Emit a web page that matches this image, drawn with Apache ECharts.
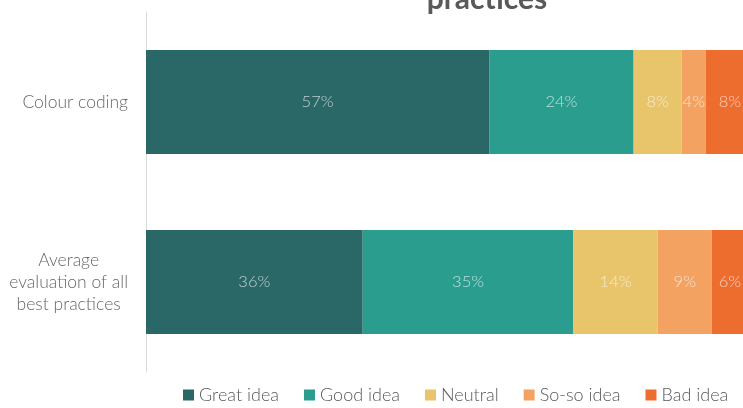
<!DOCTYPE html>
<html>
<head>
<meta charset="utf-8">
<script src="https://cdn.jsdelivr.net/npm/echarts@6/dist/echarts.min.js"></script>
<style>
  html, body { margin: 0; padding: 0; background: #ffffff; overflow: hidden; }
  #wrap { width: 743px; height: 408px; overflow: hidden; position: relative; }
  #chart { width: 770px; height: 408px; position: absolute; left: 0; top: 0; }
</style>
</head>
<body>
<div id="wrap"><div id="chart"></div></div>
<script>
// Share of ratings per item (percent)
const categories = ['Colour coding', 'Average\nevaluation of all\nbest practices'];
const seriesNames = ['Great idea', 'Good idea', 'Neutral', 'So-so idea', 'Bad idea'];
const greatIdea = [57, 36];
const goodIdea = [24, 35];
const neutral = [8, 14];
const sosoIdea = [4, 9];
const badIdea = [8, 6];
const colors = ['#2a6767', '#2a9d8f', '#e8c46b', '#f3a262', '#ed6d2e'];
const titleText = 'practices';

const values = [greatIdea, goodIdea, neutral, sosoIdea, badIdea];
const FONT = 'Lato, "Open Sans", "DejaVu Sans", sans-serif';

const chart = echarts.init(document.getElementById('chart'), null, { renderer: 'canvas' });

const series = seriesNames.map((name, i) => ({
  name: name,
  type: 'bar',
  stack: 'total',
  barWidth: 104,
  clip: false,
  itemStyle: { color: colors[i] },
  label: {
    show: true,
    position: 'inside',
    formatter: '{c}%',
    color: 'rgba(255,255,255,0.68)',
    fontFamily: FONT,
    fontWeight: 300,
    fontSize: 16.5
  },
  data: values[i]
}));

chart.setOption({
  animation: false,
  backgroundColor: '#ffffff',
  title: {
    text: titleText,
    left: 482,
    textAlign: 'center',
    top: -21,
    textStyle: {
      fontFamily: FONT,
      fontWeight: 'bold',
      fontSize: 30,
      color: '#595959'
    }
  },
  legend: {
    bottom: -1,
    left: 178,
    itemWidth: 11,
    itemHeight: 11,
    itemGap: 25,
    icon: 'rect',
    textStyle: {
      fontFamily: FONT,
      fontWeight: 300,
      fontSize: 18,
      color: '#595959'
    },
    data: seriesNames
  },
  grid: {
    left: 146,
    top: 12,
    height: 360,
    width: 602,
    outerBoundsMode: 'none'
  },
  xAxis: {
    type: 'value',
    min: 0,
    max: 100,
    show: false
  },
  yAxis: {
    type: 'category',
    inverse: true,
    data: categories,
    axisLine: { show: true, lineStyle: { color: '#d9d9d9', width: 1 } },
    axisTick: { show: false },
    axisLabel: {
      margin: 18,
      formatter: function (v) {
        return v.split('\n').map(s => '{a|' + s + '}').join('\n');
      },
      rich: {
        a: {
          align: 'center',
          fontFamily: FONT,
          fontWeight: 300,
          fontSize: 17.5,
          lineHeight: 22,
          color: '#666666'
        }
      }
    }
  },
  series: series
});
</script>
</body>
</html>
